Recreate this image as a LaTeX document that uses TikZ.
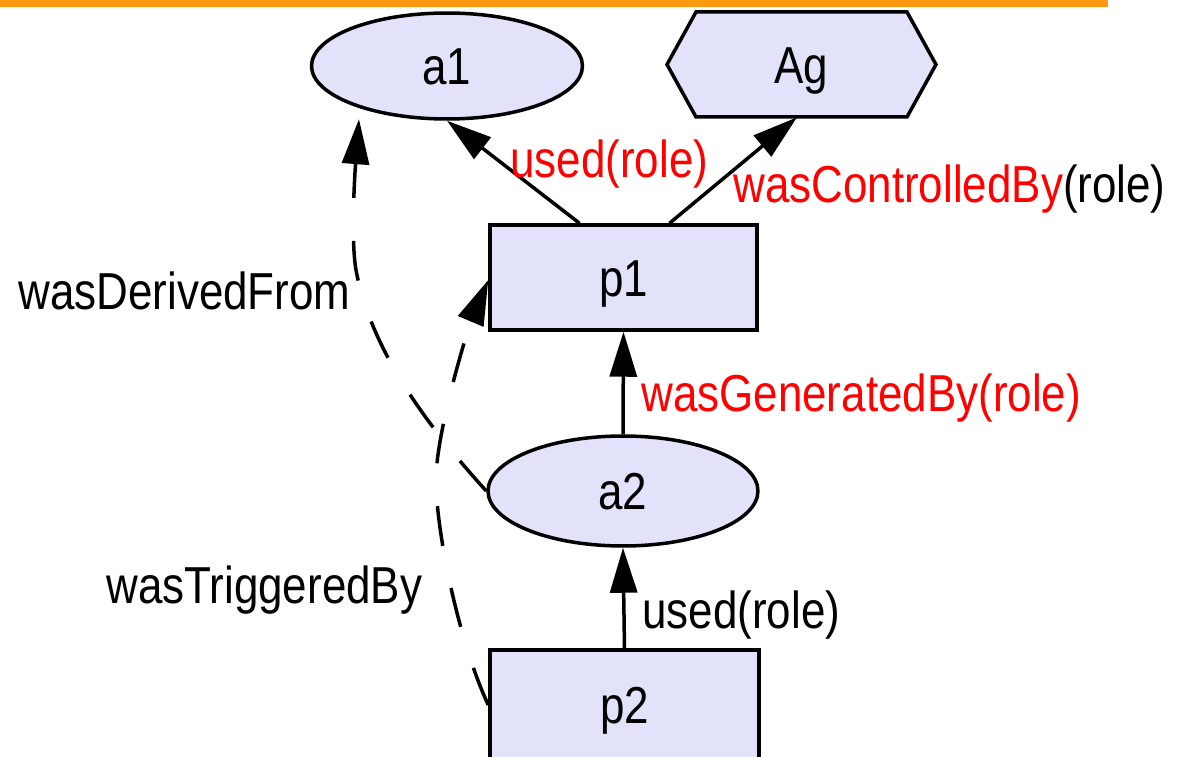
\documentclass[tikz,border=0pt]{standalone}
\usepackage{fontspec}
\newfontfamily\labfont{Liberation Sans}[FakeStretch=0.845]
\usetikzlibrary{arrows.meta,shapes.geometric}
\definecolor{nodefill}{RGB}{226,226,250}
\definecolor{barorange}{RGB}{255,153,18}
\definecolor{labred}{RGB}{255,0,0}

\begin{document}
\begin{tikzpicture}[x=0.02cm,y=-0.02cm,
  every node/.style={font=\fontsize{29.6pt}{35pt}\labfont},
  shapebox/.style={draw=black, line width=0.07cm, fill=nodefill, inner sep=0pt,
                   text height=21.3pt, text depth=0pt},
  entity/.style={shapebox, ellipse},
  activity/.style={shapebox, rectangle},
  rel/.style={line width=0.07cm, -{Triangle[length=0.9cm,width=0.54cm]}},
  derived/.style={rel, dash pattern=on 0.8cm off 0.86cm},
  lab/.style={anchor=base west, inner sep=0pt}]

% page frame
\useasboundingbox (0,0) rectangle (1188,757);
\clip (0,0) rectangle (1188,757);

% orange header strip
\fill[barorange] (0,0) rectangle (1108,7.5);

% artifacts and processes
\node[entity, minimum width=5.42cm, minimum height=2.12cm] (a1) at (447,66) {a1};
\node[activity, minimum width=5.34cm, minimum height=2.1cm] (p1) at (623.5,277.5) {p1};
\node[entity, minimum width=5.4cm, minimum height=2.2cm] (a2) at (623,491) {a2};
\node[activity, minimum width=5.38cm, minimum height=2.2cm] (p2) at (624.5,705) {p2};

% agent: hexagon outline around a plain node
\coordinate (agc) at (801.5,64.5);
\draw[shapebox] ([shift={(-134.5,0)}]agc) -- ([shift={(-105.5,-52.5)}]agc)
  -- ([shift={(105.5,-52.5)}]agc) -- ([shift={(134.5,0)}]agc)
  -- ([shift={(105.5,52.5)}]agc) -- ([shift={(-105.5,52.5)}]agc) -- cycle;
\node[inner sep=0pt, minimum width=4.22cm, minimum height=2.1cm,
      text height=21.3pt, text depth=0pt] (Ag) at (agc) {Ag};

% dependencies
\draw[rel] ([xshift=-0.88cm]p1.north) -- (a1.south);
\draw[rel] ([xshift=0.92cm]p1.north) -- ([xshift=-0.09cm]Ag.south);
\draw[rel] (a2.north) -- (p1.south);
\draw[rel] (p2.north) -- (a2.south);
\draw[derived] (a2.west) .. controls (420,418) and (370,345) .. (356,270)
  .. controls (350,235) and (356,158) .. ([shift={(9,14.5)}]a1.south west);
\draw[derived] (p2.west) .. controls (458,640) and (436,530) .. (436,480)
  .. controls (436,430) and (470,323) .. ([yshift=-0.05cm]p1.west);

% edge labels
\node[lab, text=labred] (lused) at (510,178) {used(role)};
\node[lab] (lctl) at (733,203) {\textcolor{labred}{wasControlledBy}(role)};
\node[lab, text=labred] (lgen) at (641,411) {wasGeneratedBy(role)};
\node[lab] (luse2) at (642,628) {used(role)};
\node[lab] (lder) at (18,310) {wasDerivedFrom};
\node[lab] (ltrig) at (106,603) {wasTriggeredBy};
\end{tikzpicture}
\end{document}
